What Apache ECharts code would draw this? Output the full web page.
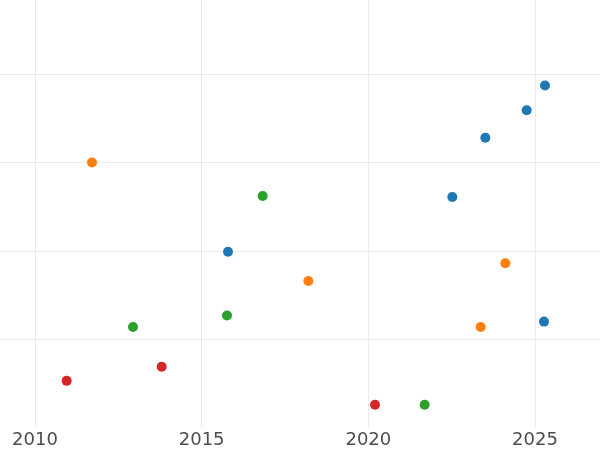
<!DOCTYPE html>
<html>
<head>
<meta charset="utf-8">
<script src="https://cdn.jsdelivr.net/npm/echarts@6/dist/echarts.min.js"></script>
<style>
  html, body { margin: 0; padding: 0; background: #fff; }
  #main { width: 600px; height: 450px; }
</style>
</head>
<body>
<div id="main"></div>
<script>
// year, value pairs
var yearTicks = [2010, 2015, 2020, 2025]
var valueTicks = [1, 2, 3, 4]
var blueYears = [2025.30, 2024.75, 2023.51, 2022.52, 2015.79, 2025.27]
var blueValues = [3.87, 3.59, 3.28, 2.61, 1.99, 1.20]
var orangeYears = [2011.71, 2018.20, 2024.11, 2023.37]
var orangeValues = [3.00, 1.66, 1.86, 1.14]
var greenYears = [2016.83, 2012.94, 2015.76, 2021.69]
var greenValues = [2.62, 1.14, 1.27, 0.26]
var redYears = [2010.95, 2013.80, 2020.20]
var redValues = [0.53, 0.69, 0.26]

function pairs(xs, ys) {
  return xs.map(function (x, i) { return [x, ys[i]] })
}

function dots(xs, ys) {
  return {
    type: 'scatter',
    symbolSize: 10,
    itemStyle: { opacity: 1 },
    data: pairs(xs, ys)
  }
}

var myChart = echarts.init(document.getElementById('main'))
var option = {
  animation: false,
  backgroundColor: '#fff',
  color: ['#1f77b4', '#ff7f0e', '#2ca02c', '#d62728'],
  grid: { left: 0, right: 0, top: 0, bottom: 22.3 },
  xAxis: {
    type: 'value',
    min: 2008.95,
    max: 2026.95,
    axisLine: { show: false },
    axisTick: { show: false, customValues: yearTicks },
    axisLabel: {
      customValues: yearTicks,
      formatter: function (v) { return String(v) },
      color: '#4d4d4d',
      fontSize: 18,
      fontFamily: 'DejaVu Sans',
      margin: 4
    },
    splitLine: { show: true, lineStyle: { color: '#ebebeb', width: 1 } }
  },
  yAxis: {
    type: 'value',
    min: 0,
    max: 4.838,
    axisLine: { show: false },
    axisTick: { show: false, customValues: valueTicks },
    axisLabel: { show: false, customValues: valueTicks },
    splitLine: { show: true, lineStyle: { color: '#ebebeb', width: 1 } }
  },
  series: [
    dots(blueYears, blueValues),
    dots(orangeYears, orangeValues),
    dots(greenYears, greenValues),
    dots(redYears, redValues)
  ]
}
myChart.setOption(option)
</script>
</body>
</html>
